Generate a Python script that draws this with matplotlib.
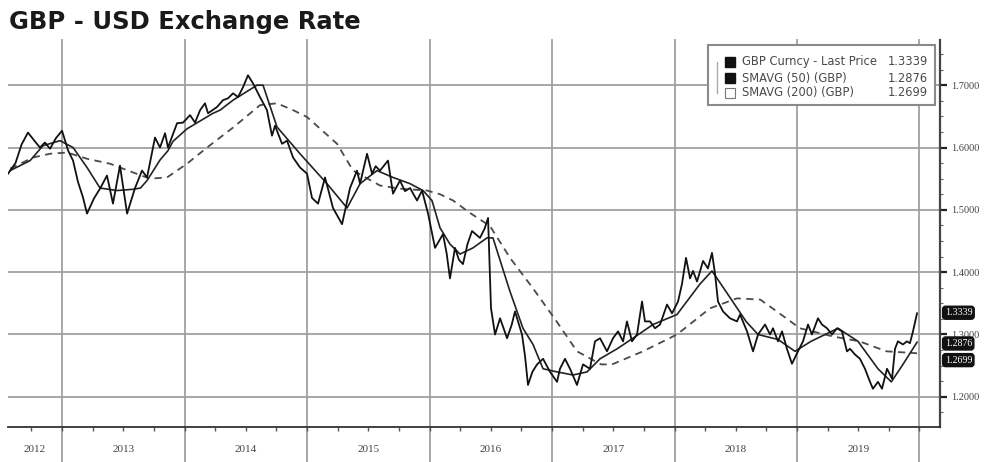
import matplotlib.pyplot as plt
from matplotlib.patches import Rectangle

# GBP/USD last price (decimal year, rate)
price_t = [2012.559, 2012.62, 2012.67, 2012.722, 2012.77, 2012.82, 2012.86, 2012.902, 2012.95, 2013.00,
           2013.05, 2013.09, 2013.13, 2013.171, 2013.204, 2013.26, 2013.31, 2013.367, 2013.416, 2013.473,
           2013.531, 2013.596, 2013.653, 2013.694, 2013.759, 2013.80, 2013.841, 2013.865, 2013.939, 2013.988,
           2014.045, 2014.086, 2014.127, 2014.167, 2014.192, 2014.265, 2014.314, 2014.355, 2014.396, 2014.437,
           2014.478, 2014.518, 2014.559, 2014.616, 2014.673, 2014.714, 2014.739, 2014.796, 2014.837, 2014.886,
           2014.943, 2015.00, 2015.041, 2015.09, 2015.147, 2015.212, 2015.286, 2015.351, 2015.408, 2015.433,
           2015.49, 2015.531, 2015.56, 2015.596, 2015.661, 2015.702, 2015.759, 2015.80, 2015.841, 2015.898,
           2015.939, 2015.988, 2016.045, 2016.11, 2016.14, 2016.167, 2016.208, 2016.24, 2016.273, 2016.31,
           2016.347, 2016.412, 2016.45, 2016.478, 2016.502, 2016.535, 2016.576, 2016.633, 2016.67, 2016.698,
           2016.755, 2016.78, 2016.804, 2016.84, 2016.878, 2016.927, 2016.984, 2017.041, 2017.065, 2017.106,
           2017.147, 2017.204, 2017.253, 2017.31, 2017.351, 2017.392, 2017.449, 2017.498, 2017.539, 2017.58,
           2017.612, 2017.653, 2017.694, 2017.735, 2017.759, 2017.80, 2017.841, 2017.882, 2017.939, 2017.98,
           2018.029, 2018.061, 2018.094, 2018.127, 2018.151, 2018.184, 2018.233, 2018.273, 2018.306, 2018.331,
           2018.355, 2018.396, 2018.453, 2018.51, 2018.535, 2018.592, 2018.641, 2018.682, 2018.739, 2018.78,
           2018.804, 2018.845, 2018.878, 2018.918, 2018.959, 2019.008, 2019.049, 2019.09, 2019.122, 2019.171,
           2019.204, 2019.245, 2019.286, 2019.327, 2019.367, 2019.408, 2019.433, 2019.473, 2019.514, 2019.555,
           2019.596, 2019.62, 2019.661, 2019.694, 2019.735, 2019.776, 2019.80, 2019.824, 2019.865, 2019.898,
           2019.922, 2019.947, 2019.98]
price_v = [1.558, 1.575, 1.605, 1.624, 1.612, 1.600, 1.608, 1.598, 1.615, 1.627,
           1.595, 1.579, 1.545, 1.520, 1.494, 1.518, 1.534, 1.555, 1.510, 1.571,
           1.494, 1.535, 1.563, 1.552, 1.616, 1.600, 1.623, 1.600, 1.639, 1.640,
           1.652, 1.640, 1.660, 1.671, 1.655, 1.665, 1.676, 1.679, 1.687, 1.681,
           1.697, 1.716, 1.703, 1.681, 1.660, 1.619, 1.635, 1.606, 1.611, 1.584,
           1.568, 1.558, 1.519, 1.510, 1.552, 1.503, 1.477, 1.535, 1.563, 1.542,
           1.590, 1.558, 1.570, 1.563, 1.579, 1.526, 1.547, 1.530, 1.535, 1.515,
           1.531, 1.494, 1.439, 1.461, 1.430, 1.390, 1.439, 1.420, 1.413, 1.445,
           1.466, 1.455, 1.470, 1.487, 1.342, 1.300, 1.326, 1.294, 1.315, 1.337,
           1.300, 1.265, 1.219, 1.240, 1.252, 1.261, 1.240, 1.224, 1.245, 1.261,
           1.245, 1.219, 1.252, 1.245, 1.289, 1.294, 1.273, 1.294, 1.305, 1.289,
           1.321, 1.289, 1.300, 1.353, 1.321, 1.321, 1.310, 1.316, 1.348, 1.334,
           1.353, 1.381, 1.423, 1.390, 1.402, 1.385, 1.418, 1.406, 1.431, 1.397,
           1.353, 1.337, 1.326, 1.321, 1.332, 1.305, 1.273, 1.300, 1.316, 1.300,
           1.310, 1.289, 1.305, 1.277, 1.253, 1.273, 1.289, 1.316, 1.300, 1.326,
           1.316, 1.310, 1.300, 1.310, 1.305, 1.273, 1.277, 1.268, 1.261, 1.245,
           1.224, 1.213, 1.224, 1.213, 1.245, 1.229, 1.277, 1.289, 1.284, 1.289,
           1.286, 1.305, 1.334]

# 50-day simple moving average
sma50_t = [2012.576, 2012.739, 2012.845, 2012.984, 2013.09, 2013.204, 2013.31, 2013.449, 2013.58, 2013.64,
           2013.694, 2013.80, 2013.865, 2013.906, 2014.02, 2014.233, 2014.29, 2014.396, 2014.592, 2014.641,
           2014.755, 2014.943, 2015.163, 2015.327, 2015.433, 2015.571, 2015.702, 2015.841, 2015.947, 2016.02,
           2016.086, 2016.167, 2016.249, 2016.355, 2016.469, 2016.518, 2016.657, 2016.763, 2016.845, 2016.927,
           2017.041, 2017.171, 2017.286, 2017.392, 2017.531, 2017.661, 2017.824, 2018.02, 2018.208, 2018.306,
           2018.42, 2018.584, 2018.682, 2018.845, 2018.984, 2019.114, 2019.335, 2019.498, 2019.661, 2019.77,
           2019.865, 2019.98]
sma50_v = [1.563, 1.579, 1.603, 1.611, 1.600, 1.568, 1.535, 1.531, 1.533, 1.535,
           1.547, 1.580, 1.595, 1.610, 1.630, 1.655, 1.660, 1.676, 1.700, 1.700,
           1.633, 1.590, 1.542, 1.503, 1.542, 1.563, 1.552, 1.542, 1.531, 1.515,
           1.471, 1.445, 1.429, 1.439, 1.455, 1.455, 1.369, 1.310, 1.284, 1.245,
           1.240, 1.235, 1.240, 1.261, 1.277, 1.294, 1.316, 1.332, 1.381, 1.402,
           1.369, 1.321, 1.300, 1.292, 1.273, 1.289, 1.310, 1.289, 1.245, 1.224,
           1.252, 1.2876]

# 200-day simple moving average
sma200_t = [2012.576, 2012.763, 2012.902, 2013.041, 2013.204, 2013.392, 2013.58, 2013.718, 2013.857, 2014.02,
            2014.184, 2014.396, 2014.616, 2014.755, 2014.886, 2015.00, 2015.245, 2015.376, 2015.596, 2015.759,
            2015.98, 2016.086, 2016.192, 2016.331, 2016.494, 2016.657, 2016.845, 2017.041, 2017.204, 2017.40,
            2017.49, 2017.743, 2018.02, 2018.29, 2018.51, 2018.70, 2018.80, 2019.024, 2019.29, 2019.51,
            2019.73, 2019.98]
sma200_v = [1.566, 1.584, 1.590, 1.592, 1.582, 1.574, 1.560, 1.550, 1.552, 1.574,
            1.600, 1.632, 1.668, 1.671, 1.660, 1.649, 1.606, 1.563, 1.539, 1.534,
            1.531, 1.525, 1.515, 1.495, 1.474, 1.423, 1.374, 1.320, 1.273, 1.252,
            1.252, 1.273, 1.300, 1.342, 1.358, 1.356, 1.342, 1.310, 1.297, 1.289,
            1.273, 1.2699]

years = [2012, 2013, 2014, 2015, 2016, 2017, 2018, 2019]
y_ticks = [1.2, 1.3, 1.4, 1.5, 1.6, 1.7]
legend_labels = ["GBP Curncy - Last Price", "SMAVG (50) (GBP)", "SMAVG (200) (GBP)"]
last_values = [1.3339, 1.2876, 1.2699]

x_left, x_right = 2012.559, 2020.167

fig = plt.figure(figsize=(9.89, 4.62), dpi=100)
ax = fig.add_axes([0.0081, 0.0758, 0.9423, 0.8377])
ax.set_xlim(x_left, x_right)
ax.set_ylim(1.1516, 1.7726)

grid_c = "#a0a0a0"
for yv in y_ticks:
    ax.axhline(yv, color=grid_c, lw=1.3, zorder=1)
for yr in years[1:] + [2020]:
    ax.axvline(yr, ymin=-0.092, ymax=1, color=grid_c, lw=1.3, zorder=1, clip_on=False)

ax.plot(sma200_t, sma200_v, color="#4a4a4a", lw=1.3, ls=(0, (4, 3)), zorder=2)
ax.plot(sma50_t, sma50_v, color="#222222", lw=1.2, zorder=3)
ax.plot(price_t, price_v, color="#111111", lw=1.3, zorder=4)

for s in ["left", "top"]:
    ax.spines[s].set_visible(False)
ax.spines["right"].set_color("#444444")
ax.spines["right"].set_linewidth(1.6)
ax.spines["bottom"].set_color("#333333")
ax.spines["bottom"].set_linewidth(1.3)

ax.yaxis.tick_right()
ax.set_yticks(y_ticks)
ax.set_yticklabels([f"{v:.4f}" for v in y_ticks], family="Liberation Serif")
ax.set_yticks([1.175 + 0.025 * i for i in range(24)], minor=True)
ax.tick_params(axis="y", which="major", direction="out", length=5, width=1.6,
               color="#222222", labelsize=7.5, labelcolor="#444444", pad=3)
ax.tick_params(axis="y", which="minor", direction="out", length=2.5, width=0.8, color="#666666")

ax.set_xticks([yr + q * 0.25 for yr in range(2012, 2021) for q in range(4)
               if x_left < yr + q * 0.25 < x_right])
ax.set_xticklabels([])
ax.tick_params(axis="x", direction="out", length=3, width=1, color="#555555")

xt = ax.get_xaxis_transform()
for yr in years:
    cx = (x_left + 2013) / 2 if yr == 2012 else yr + 0.5
    ax.text(cx, -0.058, str(yr), transform=xt, ha="center", va="center",
            fontsize=8, family="Liberation Serif", color="#444444")

# last value tags on the right axis
yt = ax.get_yaxis_transform()
for val, dy in zip(last_values, [0.001, -0.002, -0.011]):
    ax.text(1.005, val + dy, f"{val:.4f}", transform=yt, ha="left", va="center",
            fontsize=7.2, family="Liberation Serif", color="white", zorder=6, clip_on=False,
            bbox=dict(boxstyle="round,pad=0.2,rounding_size=0.3", fc="#111111", ec="#111111"))

# legend box
ax.add_patch(Rectangle((0.716, 0.7727), 0.229, 0.1299, transform=fig.transFigure,
                       fc="white", ec="#8a8a8a", lw=1.5, zorder=7, clip_on=False))
row_y = [0.866, 0.831, 0.799]
for i, (lab, val) in enumerate(zip(legend_labels, last_values)):
    if i < 2:
        ax.add_patch(Rectangle((0.733, row_y[i] - 0.011), 0.010, 0.022, transform=fig.transFigure,
                               fc="#111111", ec="#111111", zorder=8, clip_on=False))
    else:
        ax.add_patch(Rectangle((0.733, row_y[i] - 0.011), 0.010, 0.022, transform=fig.transFigure,
                               fc="white", ec="#777777", lw=0.8, zorder=8, clip_on=False))
    fig.text(0.750, row_y[i], lab, ha="left", va="center", fontsize=8.3, color="#4a4a4a", zorder=9)
    fig.text(0.938, row_y[i], f"{val:.4f}", ha="right", va="center", fontsize=8.3,
             color="#4a4a4a", zorder=9)
fig.add_artist(plt.Line2D([0.725, 0.725], [row_y[0], row_y[2]], transform=fig.transFigure,
                          color="#aaaaaa", lw=1))

fig.text(0.009, 0.952, "GBP - USD Exchange Rate", fontsize=17.5, fontweight="bold",
         ha="left", va="center", color="#1a1a1a")

fig.savefig("out.png", dpi=100, facecolor="white")
